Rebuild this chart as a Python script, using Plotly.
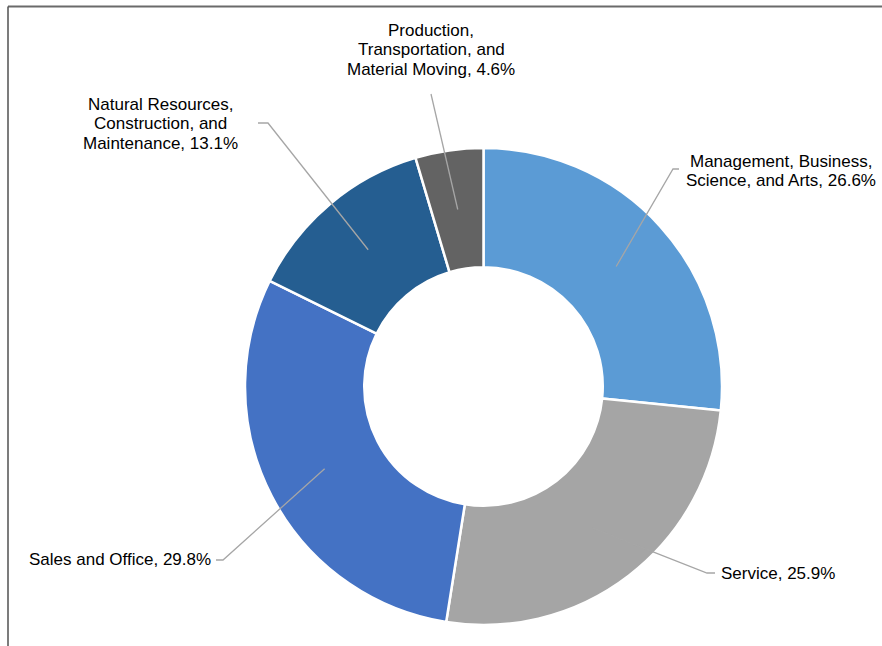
import math
import plotly.graph_objects as go

# Employment by occupation group (percent of employed)
categories = [
    "Management, Business, Science, and Arts",
    "Service",
    "Sales and Office",
    "Natural Resources, Construction, and Maintenance",
    "Production, Transportation, and Material Moving",
]
shares = [26.6, 25.9, 29.8, 13.1, 4.6]
colors = ["#5B9BD5", "#A5A5A5", "#4472C4", "#255E91", "#636363"]

# Label text, wrapped as it is printed next to the ring
label_lines = [
    ["Management, Business,", "Science, and Arts"],
    ["Service"],
    ["Sales and Office"],
    ["Natural Resources,", "Construction, and", "Maintenance"],
    ["Production,", "Transportation, and", "Material Moving"],
]

# ---- layout (pixel space of the 882x646 canvas) ----
W, H = 882, 646
CX, CY, R = 483.5, 386.5, 238.5
HOLE = 0.5
FONT = "Liberation Sans, Arial, sans-serif"
FONT_SIZE = 17
LINE_STEP = 19.5

# label block: centre x, cap-centre y of first line
label_pos = [(781, 161), (777.5, 573), (120, 559.5), (160.5, 104.4), (431, 30.4)]
# leader lines: elbow next to label, end at label
leader_elbow = [(673, 169), (707, 573), (223, 560), (268, 123), None]
leader_end = [(679, 169), (715, 573), (216, 560), (258, 123), (431, 94)]

fig = go.Figure()

fig.add_trace(go.Pie(
    labels=categories,
    values=shares,
    hole=HOLE,
    sort=False,
    direction="clockwise",
    rotation=0,
    marker=dict(colors=colors, line=dict(color="white", width=2.5)),
    textinfo="none",
    hoverinfo="label+percent",
    showlegend=False,
    domain=dict(
        x=[(CX - R) / W, (CX + R) / W],
        y=[1 - (CY + R) / H, 1 - (CY - R) / H],
    ),
))

# leader lines from the middle of each ring segment out to its label
total = sum(shares)
r_mid = R * (1 + HOLE) / 2
cum = 0.0
for i, v in enumerate(shares):
    theta = (cum + v / 2) / total * 2 * math.pi
    cum += v
    pts = [(CX + r_mid * math.sin(theta), CY - r_mid * math.cos(theta))]
    if leader_elbow[i] is not None:
        pts.append(leader_elbow[i])
    pts.append(leader_end[i])
    path = "M " + " L ".join(f"{px:.2f},{py:.2f}" for px, py in pts)
    fig.add_shape(type="path", path=path, xref="x", yref="y", layer="above",
                  line=dict(color="#A6A6A6", width=1.3))

# labels, one annotation per text line
for i, lines in enumerate(label_lines):
    lines = list(lines)
    lines[-1] = f"{lines[-1]}, {shares[i]:.1f}%"
    lx, ly = label_pos[i]
    for k, txt in enumerate(lines):
        fig.add_annotation(
            x=lx, y=ly + k * LINE_STEP, xref="x", yref="y",
            text=txt, showarrow=False,
            xanchor="center", yanchor="middle",
            font=dict(family=FONT, size=FONT_SIZE, color="#000000"),
        )

# chart frame (top and left edges)
fig.add_shape(type="line", x0=8, x1=W, y0=6.5, y1=6.5, xref="x", yref="y",
              line=dict(color="#6A6A6A", width=2.2))
fig.add_shape(type="line", x0=8, x1=8, y0=6.5, y1=H, xref="x", yref="y",
              line=dict(color="#505050", width=1.5))

fig.update_layout(
    width=W, height=H,
    margin=dict(l=0, r=0, t=0, b=0),
    paper_bgcolor="white", plot_bgcolor="rgba(0,0,0,0)",
    xaxis=dict(range=[0, W], visible=False, fixedrange=True, domain=[0, 1]),
    yaxis=dict(range=[H, 0], visible=False, fixedrange=True, domain=[0, 1]),
)

fig.write_html("out.html")
